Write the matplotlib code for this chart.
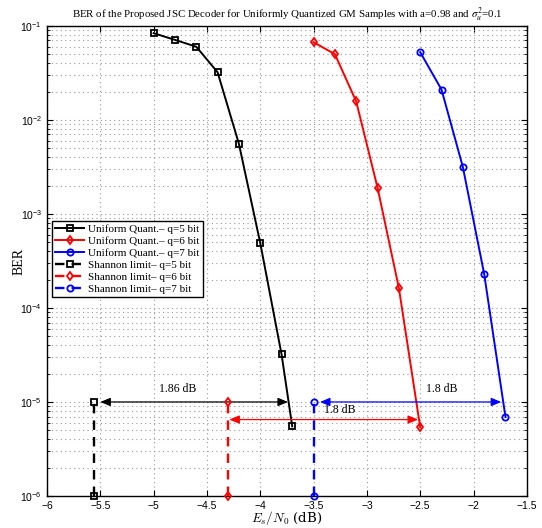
import matplotlib
matplotlib.use('Agg')
import matplotlib.pyplot as plt
from matplotlib.ticker import LogLocator, NullFormatter, MultipleLocator

# BER curves
snr_q5 = [-5.0, -4.8, -4.6, -4.4, -4.2, -4.0, -3.8, -3.7]
ber_q5 = [0.0836, 0.071, 0.060, 0.0321, 5.56e-3, 4.9e-4, 3.2e-5, 5.5e-6]
snr_q6 = [-3.5, -3.3, -3.1, -2.9, -2.7, -2.5]
ber_q6 = [0.067, 0.050, 0.0157, 1.9e-3, 1.63e-4, 5.4e-6]
snr_q7 = [-2.5, -2.3, -2.1, -1.9, -1.7]
ber_q7 = [0.0525, 0.021, 3.16e-3, 2.3e-4, 6.9e-6]

# Shannon limits
shannon_x = [-5.56, -4.3, -3.5]
shannon_y = [1e-6, 1e-5]

# gap arrows: (x0, x1, y, label, label_x, label_y, colour)
gaps = [(-5.5, -3.74, 1e-5, '1.86 dB', -4.77, 1.38e-5, 'black'),
        (-4.29, -2.52, 6.5e-6, '1.8 dB', -3.25, 8.3e-6, 'red'),
        (-3.44, -1.74, 1e-5, '1.8 dB', -2.30, 1.38e-5, 'blue')]

serif = 'Liberation Serif'
sans = 'Liberation Sans'

fig = plt.figure(figsize=(5.42, 5.28), dpi=100)
ax = fig.add_axes([0.0867, 0.0606, 0.8853, 0.8904])

lw = 1.4
ms = 4.5
ax.plot(snr_q5, ber_q5, 'k-s', lw=lw, ms=ms, mfc='none', mew=1.3, label='Uniform Quant.– q=5 bit')
ax.plot(snr_q6, ber_q6, 'r-d', lw=lw, ms=ms, mfc='none', mew=1.3, label='Uniform Quant.– q=6 bit')
ax.plot(snr_q7, ber_q7, 'b-o', lw=lw, ms=ms, mfc='none', mew=1.3, label='Uniform Quant.– q=7 bit')
markers = ['s', 'd', 'o']
colors = ['k', 'r', 'b']
for i, xs in enumerate(shannon_x):
    ax.plot([xs, xs], shannon_y, ls='--', color=colors[i], marker=markers[i], lw=lw + 0.3,
            ms=ms, mfc='none', mew=1.3, dashes=(4, 3), clip_on=False, zorder=5,
            label='Shannon limit– q=%d bit' % (i + 5))

for x0, x1, y, txt, tx, ty, c in gaps:
    ax.annotate('', xy=(x1, y), xytext=(x0, y),
                arrowprops=dict(arrowstyle='<|-|>,head_length=0.6,head_width=0.25',
                                color=c, lw=0.9, shrinkA=0, shrinkB=0))
    ax.text(tx, ty, txt, ha='center', va='center', fontsize=8.5, family=serif)

ax.set_xlim(-6, -1.5)
ax.set_ylim(1e-6, 1e-1)
ax.set_yscale('log')
ax.xaxis.set_major_locator(MultipleLocator(0.5))
ax.yaxis.set_major_locator(LogLocator(base=10, numticks=10))
ax.yaxis.set_minor_locator(LogLocator(base=10, subs=range(2, 10), numticks=20))
ax.yaxis.set_minor_formatter(NullFormatter())
ax.set_xticks([-6, -5.5, -5, -4.5, -4, -3.5, -3, -2.5, -2, -1.5])
ax.set_xticklabels(['−6', '−5.5', '−5', '−4.5', '−4', '−3.5', '−3', '−2.5', '−2', '−1.5'])

ax.grid(True, which='major', ls=(0, (1, 3)), color='#999999', lw=0.8)
ax.grid(True, which='minor', axis='y', ls=(0, (1, 3)), color='#999999', lw=0.8)
ax.tick_params(which='both', direction='in', top=True, right=True, labelsize=7.5)
ax.tick_params(which='major', length=4)
ax.tick_params(which='minor', length=2)
for lab in ax.get_xticklabels() + ax.get_yticklabels():
    lab.set_family(sans)
for s in ax.spines.values():
    s.set_linewidth(1.0)

ax.set_ylabel('BER', family=serif, fontsize=10, labelpad=-4)
ax.set_xlabel(r'$E_s/N_0$ (dB)', family='DejaVu Serif', fontsize=9.5, labelpad=-1,
              math_fontfamily='cm')
ax.set_title(r'BER of the Proposed JSC Decoder for Uniformly Quantized GM Samples with a=0.98 and $\sigma_u^2$=0.1',
             family=serif, fontsize=7.8, math_fontfamily='stix', pad=6)

leg = ax.legend(loc='upper left', bbox_to_anchor=(0.01, 0.585), prop={'family': serif, 'size': 8},
                fancybox=False, framealpha=1, edgecolor='black', handlelength=2.6,
                borderpad=0.3, labelspacing=0.2, handletextpad=0.4, borderaxespad=0)
leg.get_frame().set_linewidth(1.0)

fig.savefig('out.png', dpi=100)
